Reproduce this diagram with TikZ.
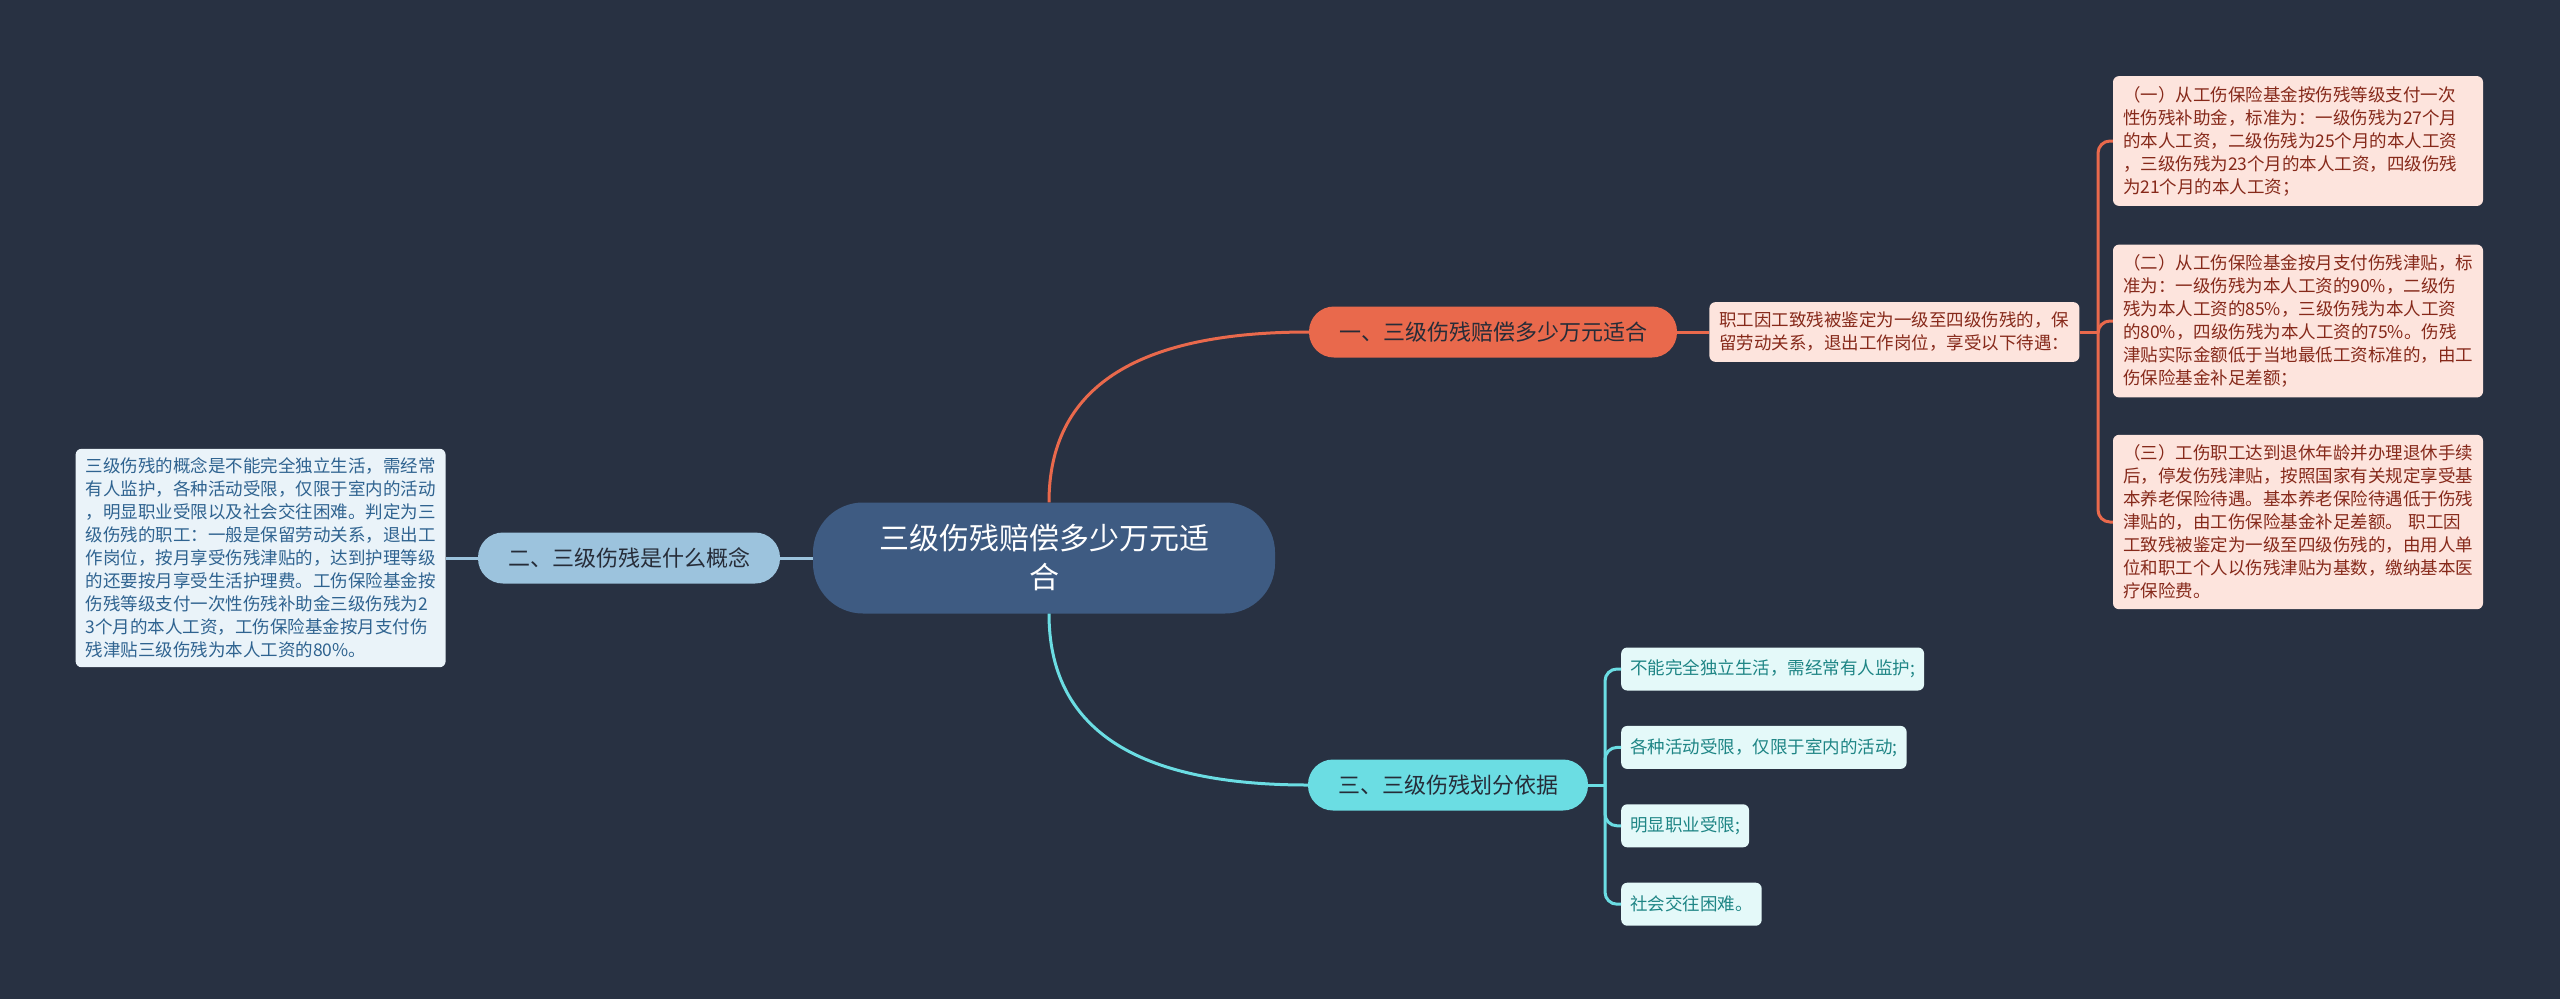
\documentclass[tikz,border=0pt]{standalone}
\usepackage{fontspec}
\setmainfont{Noto Sans CJK SC}
\usepackage{tikz}
\usetikzlibrary{positioning,calc}
\definecolor{bgcol}{HTML}{283142}
\definecolor{rootcol}{HTML}{3E5B82}
\definecolor{orgcol}{HTML}{E9694C}
\definecolor{pinkcol}{HTML}{FDE4DD}
\definecolor{pinkink}{HTML}{86291A}
\definecolor{bluecol}{HTML}{9CC3DD}
\definecolor{paleblue}{HTML}{EAF3F9}
\definecolor{blueink}{HTML}{2F6390}
\definecolor{cyancol}{HTML}{6BDDE3}
\definecolor{palecyan}{HTML}{E4F9F9}
\definecolor{cyanink}{HTML}{1E8585}
\definecolor{darkink}{HTML}{262C38}

\begin{document}
\begin{tikzpicture}[
  x=1pt, y=-1pt,
  rootbox/.style={fill=rootcol, text=white, rounded corners=50pt, minimum width=462pt, minimum height=111pt, align=center, font=\fontsize{30}{39}\selectfont},
  branch/.style={rounded corners=25pt, minimum height=51pt, inner xsep=30pt, text=darkink, font=\fontsize{22}{26}\selectfont},
  note/.style={rounded corners=6pt, text width=350pt, inner xsep=10pt, inner ysep=10pt, align=left, font=\fontsize{17.5}{23}\selectfont},
  leaf/.style={rounded corners=6pt, fill=palecyan, text=cyanink, anchor=west, minimum height=43pt, inner xsep=9pt, font=\fontsize{17.5}{23}\selectfont},
  orgline/.style={draw=orgcol, line width=3pt},
  blueline/.style={draw=bluecol, line width=3pt},
  cyanline/.style={draw=cyancol, line width=3pt},
]
\fill[bgcol] (0,0) rectangle (2560,999);
\useasboundingbox (0,0) rectangle (2560,999);
\node[rootbox] (root) at (1044,558) {三级伤残赔偿多少万元适\\合};
\node[branch, fill=orgcol] (b1) at (1493,332) {一、三级伤残赔偿多少万元适合};
\node[branch, fill=bluecol] (b2) at (629,558) {二、三级伤残是什么概念};
\node[branch, fill=cyancol] (b3) at (1448,785) {三、三级伤残划分依据};
\node[note, fill=pinkcol, text=pinkink, right=32pt of b1, inner ysep=10pt] (treat) {职工因工致残被鉴定为一级至四级伤残的，保\\留劳动关系，退出工作岗位，享受以下待遇：};
\node[note, fill=pinkcol, text=pinkink] (pay1) at (2298,141) {（一）从工伤保险基金按伤残等级支付一次\\性伤残补助金，标准为：一级伤残为27个月\\的本人工资，二级伤残为25个月的本人工资\\，三级伤残为23个月的本人工资，四级伤残\\为21个月的本人工资；};
\node[note, fill=pinkcol, text=pinkink] (pay2) at (2298,321) {（二）从工伤保险基金按月支付伤残津贴，标\\准为：一级伤残为本人工资的90\%，二级伤\\残为本人工资的85\%，三级伤残为本人工资\\的80\%，四级伤残为本人工资的75\%。伤残\\津贴实际金额低于当地最低工资标准的，由工\\伤保险基金补足差额；};
\node[note, fill=pinkcol, text=pinkink] (pay3) at (2298,522) {（三）工伤职工达到退休年龄并办理退休手续\\后，停发伤残津贴，按照国家有关规定享受基\\本养老保险待遇。基本养老保险待遇低于伤残\\津贴的，由工伤保险基金补足差额。 职工因\\工致残被鉴定为一级至四级伤残的，由用人单\\位和职工个人以伤残津贴为基数，缴纳基本医\\疗保险费。};
\node[note, fill=paleblue, text=blueink, left=32pt of b2, inner ysep=9pt] (concept) {三级伤残的概念是不能完全独立生活，需经常\\有人监护，各种活动受限，仅限于室内的活动\\，明显职业受限以及社会交往困难。判定为三\\级伤残的职工：一般是保留劳动关系，退出工\\作岗位，按月享受伤残津贴的，达到护理等级\\的还要按月享受生活护理费。工伤保险基金按\\伤残等级支付一次性伤残补助金三级伤残为2\\3个月的本人工资，工伤保险基金按月支付伤\\残津贴三级伤残为本人工资的80\%。};
\node[leaf] (c1) at (1621,669) {不能完全独立生活，需经常有人监护;};
\node[leaf, below=35pt of c1.south west, anchor=north west] (c2) {各种活动受限，仅限于室内的活动;};
\node[leaf, below=35pt of c2.south west, anchor=north west] (c3) {明显职业受限;};
\node[leaf, below=35pt of c3.south west, anchor=north west] (c4) {社会交往困难。};
\coordinate (j1) at (2098,332);
\coordinate (j3) at (1605,785);
\draw[orgline] ([xshift=5pt]root.north) .. controls +(0,-114) and +(-174,0) .. (b1.west);
\draw[cyanline] ([xshift=5pt]root.south) .. controls +(0,114) and +(-174,0) .. (b3.west);
\draw[blueline] (root.west) -- (b2.east);
\draw[blueline] (b2.west) -- (concept.east);
\draw[orgline] (b1.east) -- (treat.west);
\draw[orgline] (treat.east) -- (j1);
\draw[orgline, rounded corners=12pt] (j1) |- (pay1.west);
\draw[orgline, rounded corners=12pt] (j1) |- (pay2.west);
\draw[orgline, rounded corners=12pt] (j1) |- (pay3.west);
\draw[cyanline] (b3.east) -- (j3);
\draw[cyanline, rounded corners=12pt] (j3) |- (c1.west);
\draw[cyanline, rounded corners=12pt] (j3) |- (c2.west);
\draw[cyanline, rounded corners=12pt] (j3) |- (c3.west);
\draw[cyanline, rounded corners=12pt] (j3) |- (c4.west);
\end{tikzpicture}
\end{document}
